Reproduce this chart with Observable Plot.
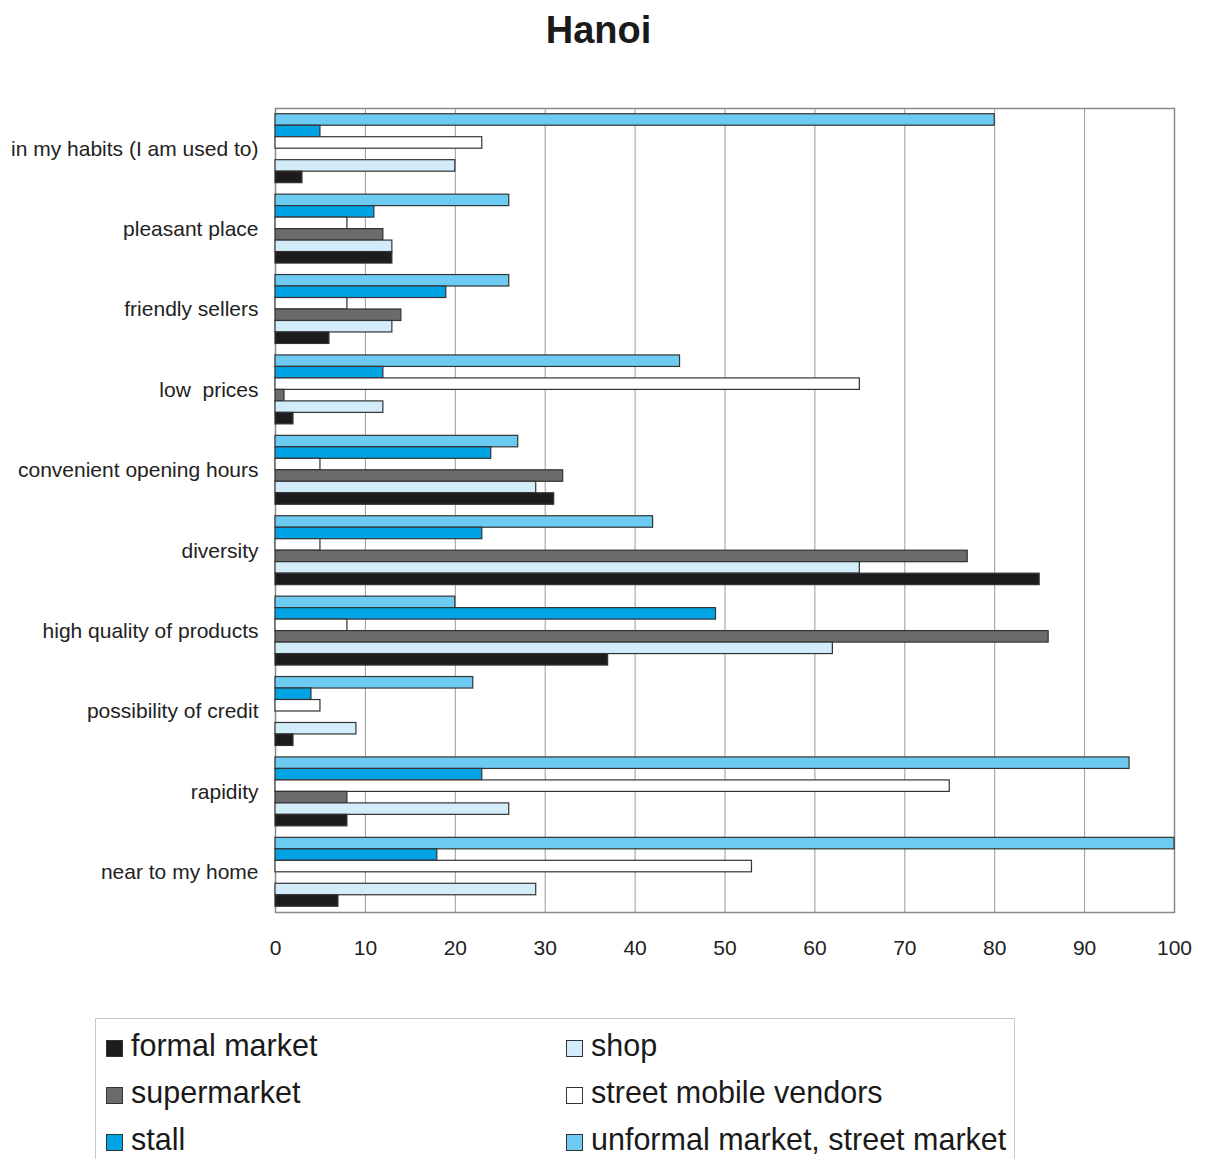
<!DOCTYPE html>
<html>
<head>
<meta charset="utf-8">
<script src="https://cdn.jsdelivr.net/npm/d3@7"></script>
<script src="https://cdn.jsdelivr.net/npm/@observablehq/plot@0.6"></script>
<style>
  html, body { margin: 0; padding: 0; background: #fff; }
  body { width: 1211px; height: 1159px; overflow: hidden; font-family: Arial, "Liberation Sans", sans-serif; color: #222; }
  #title { height: 60px; line-height: 60px; text-align: center; font-size: 38px; font-weight: bold; color: #1a1a1a; padding-right: 14px; }
  #chart svg { display: block; }
  #legend { position: absolute; left: 95px; top: 1018px; width: 920px; height: 160px; border: 1.5px solid #c8c8c8; box-sizing: border-box; }
  .item { position: absolute; font-size: 30.5px; line-height: 34px; white-space: nowrap; color: #1a1a1a; }
  .sw { display: inline-block; width: 17px; height: 17px; border: 1.5px solid #333; vertical-align: -1px; margin-right: 8px; box-sizing: border-box; }
</style>
</head>
<body>
<div id="title">Hanoi</div>
<div id="chart"></div>
<div id="legend"></div>
<script>
const categories = [
  "in my habits (I am used to)",
  "pleasant place",
  "friendly sellers",
  "low  prices",
  "convenient opening hours",
  "diversity",
  "high quality of products",
  "possibility of credit",
  "rapidity",
  "near to my home"
];
// series in drawing order (top to bottom within each group)
const seriesNames = ["unformal market, street market", "stall", "street mobile vendors", "supermarket", "shop", "formal market"];
const seriesColors = ["#6dcbf2", "#00a4e4", "#ffffff", "#6b6b6b", "#d2ecf9", "#1d1b1c"];

const unformalMarket = [80, 26, 26, 45, 27, 42, 20, 22, 95, 100];
const stall          = [5, 11, 19, 12, 24, 23, 49, 4, 23, 18];
const streetMobile   = [23, 8, 8, 65, 5, 5, 8, 5, 75, 53];
const supermarket    = [0, 12, 14, 1, 32, 77, 86, 0, 8, 0];
const shop           = [20, 13, 13, 12, 29, 65, 62, 9, 26, 29];
const formalMarket   = [3, 13, 6, 2, 31, 85, 37, 2, 8, 7];

const xTicks = [0, 10, 20, 30, 40, 50, 60, 70, 80, 90, 100];

const legendOrder = ["formal market", "supermarket", "stall", "shop", "street mobile vendors", "unformal market, street market"];

const seriesValues = [unformalMarket, stall, streetMobile, supermarket, shop, formalMarket];

const keyOf = (c, s) => c + "|" + s;
const data = [];
categories.forEach((c, i) => {
  seriesNames.forEach((s, j) => {
    const v = seriesValues[j][i];
    if (v > 0) data.push({category: c, series: s, value: v, key: keyOf(c, s)});
  });
});
const yDomain = [];
categories.forEach((c, i) => {
  seriesNames.forEach(s => yDomain.push(keyOf(c, s)));
  if (i < categories.length - 1) yDomain.push("gap" + i);
});
const labels = categories.map(c => ({category: c, key: keyOf(c, seriesNames[2])}));

const chart = Plot.plot({
  width: 1211,
  height: 912,
  marginLeft: 275,
  marginRight: 37,
  marginTop: 48,
  marginBottom: 60,
  style: {fontFamily: "Arial, 'Liberation Sans', sans-serif", fontSize: "21px", color: "#222", background: "#fff"},
  x: {domain: [0, 100], ticks: xTicks, tickSize: 0, tickPadding: 28, label: null, tickFormat: d => String(d)},
  y: {domain: yDomain, axis: null, paddingInner: 0, paddingOuter: 0.5},
  color: {domain: seriesNames, range: seriesColors},
  marks: [
    Plot.ruleX(xTicks.slice(1, -1), {stroke: "#9a9a9a", strokeWidth: 1}),
    Plot.frame({stroke: "#8a8a8a", strokeWidth: 1.5}),
    Plot.barX(data, {x: "value", y: "key", fill: "series", stroke: "#333", strokeWidth: 1.2}),
    Plot.text(labels, {y: "key", text: "category", frameAnchor: "left", textAnchor: "end", dx: -17, dy: 6, fontSize: 21, fill: "#222"})
  ]
});
document.getElementById("chart").appendChild(chart);

const legend = document.getElementById("legend");
const pos = [[10, 9], [10, 56], [10, 103], [470, 9], [470, 56], [470, 103]];
legendOrder.forEach((s, i) => {
  const el = document.createElement("div");
  el.className = "item";
  el.style.left = pos[i][0] + "px";
  el.style.top = pos[i][1] + "px";
  const sw = document.createElement("span");
  sw.className = "sw";
  sw.style.background = seriesColors[seriesNames.indexOf(s)];
  el.appendChild(sw);
  el.appendChild(document.createTextNode(s));
  legend.appendChild(el);
});
</script>
</body>
</html>
